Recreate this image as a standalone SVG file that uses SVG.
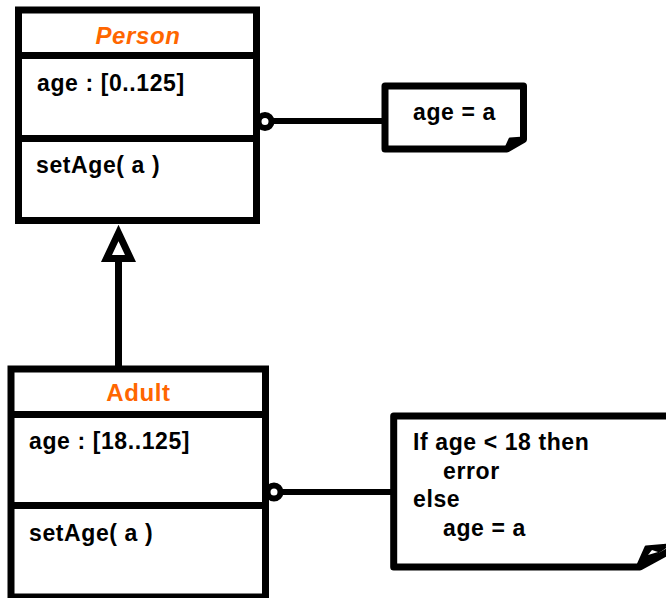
<svg xmlns="http://www.w3.org/2000/svg" width="666" height="598" viewBox="0 0 666 598">
<style>
.box{fill:#fff;stroke:#000;stroke-width:7;stroke-linejoin:miter}
.sep{stroke:#000;stroke-width:7}
.note{fill:#fff;stroke:#000;stroke-width:7;stroke-linejoin:round}
.conn{stroke:#000;stroke-width:6;fill:none}
.ball{fill:#fff;stroke:#000;stroke-width:6}
.t{font-family:"Liberation Sans",Arial,sans-serif;font-weight:bold;font-size:23px;letter-spacing:0.6px;fill:#000}
.title{font-family:"Liberation Sans",Arial,sans-serif;font-weight:bold;font-size:24px;letter-spacing:0.6px;fill:#FF6600;text-anchor:middle}
</style>
<rect width="666" height="598" fill="#fff"/>
<g id="connectors">
<line class="conn" x1="118.5" y1="262" x2="118.5" y2="369" style="stroke-width:7"/>
<polygon points="118.5,233 106.5,258.5 130.5,258.5" fill="#fff" stroke="#000" stroke-width="7" stroke-linejoin="miter"/>
<line class="conn" x1="270" y1="121" x2="386" y2="121"/>
<line class="conn" x1="278" y1="492" x2="394" y2="492"/>
</g>
<g id="Person">
<rect class="box" x="18.5" y="10" width="238" height="210.5"/>
<line class="sep" x1="18.5" y1="55.5" x2="256.5" y2="55.5"/>
<line class="sep" x1="18.5" y1="138.5" x2="256.5" y2="138.5"/>
<text class="title" x="138" y="44" font-style="italic">Person</text>
<text class="t" x="37" y="91">age : [0..125]</text>
<text class="t" x="36" y="173">setAge( a )</text>
<circle class="ball" cx="265" cy="121.5" r="6.5"/>
</g>
<g id="Adult">
<rect class="box" x="11" y="369" width="254.5" height="228"/>
<line class="sep" x1="11" y1="414.5" x2="265.5" y2="414.5"/>
<line class="sep" x1="11" y1="505.5" x2="265.5" y2="505.5"/>
<text class="title" x="138.5" y="401">Adult</text>
<text class="t" x="29" y="449">age : [18..125]</text>
<text class="t" x="29" y="541">setAge( a )</text>
<circle class="ball" cx="274" cy="492" r="6.5"/>
</g>
<g id="note1">
<path class="note" d="M385,86 H523.5 V139.5 L507,149 H385 Z"/>
<path d="M505,150 L510,139 L524,138 Z" fill="#000" stroke="#000" stroke-width="3" stroke-linejoin="round"/>
<text class="t" x="413" y="120">age = a</text>
</g>
<g id="note2">
<path class="note" d="M393.7,416 H680 V545 L640,567 H393.7 Z"/>
<path d="M638,565 L646,547 L668,545 Z" fill="#000" stroke="#000" stroke-width="3" stroke-linejoin="round"/>
<path d="M648,555 L652,550 L658,552 Z" fill="#fff"/>
<text class="t" x="413" y="450">If age &lt; 18 then</text>
<text class="t" x="443" y="479">error</text>
<text class="t" x="413" y="507">else</text>
<text class="t" x="443" y="536">age = a</text>
</g>
</svg>
